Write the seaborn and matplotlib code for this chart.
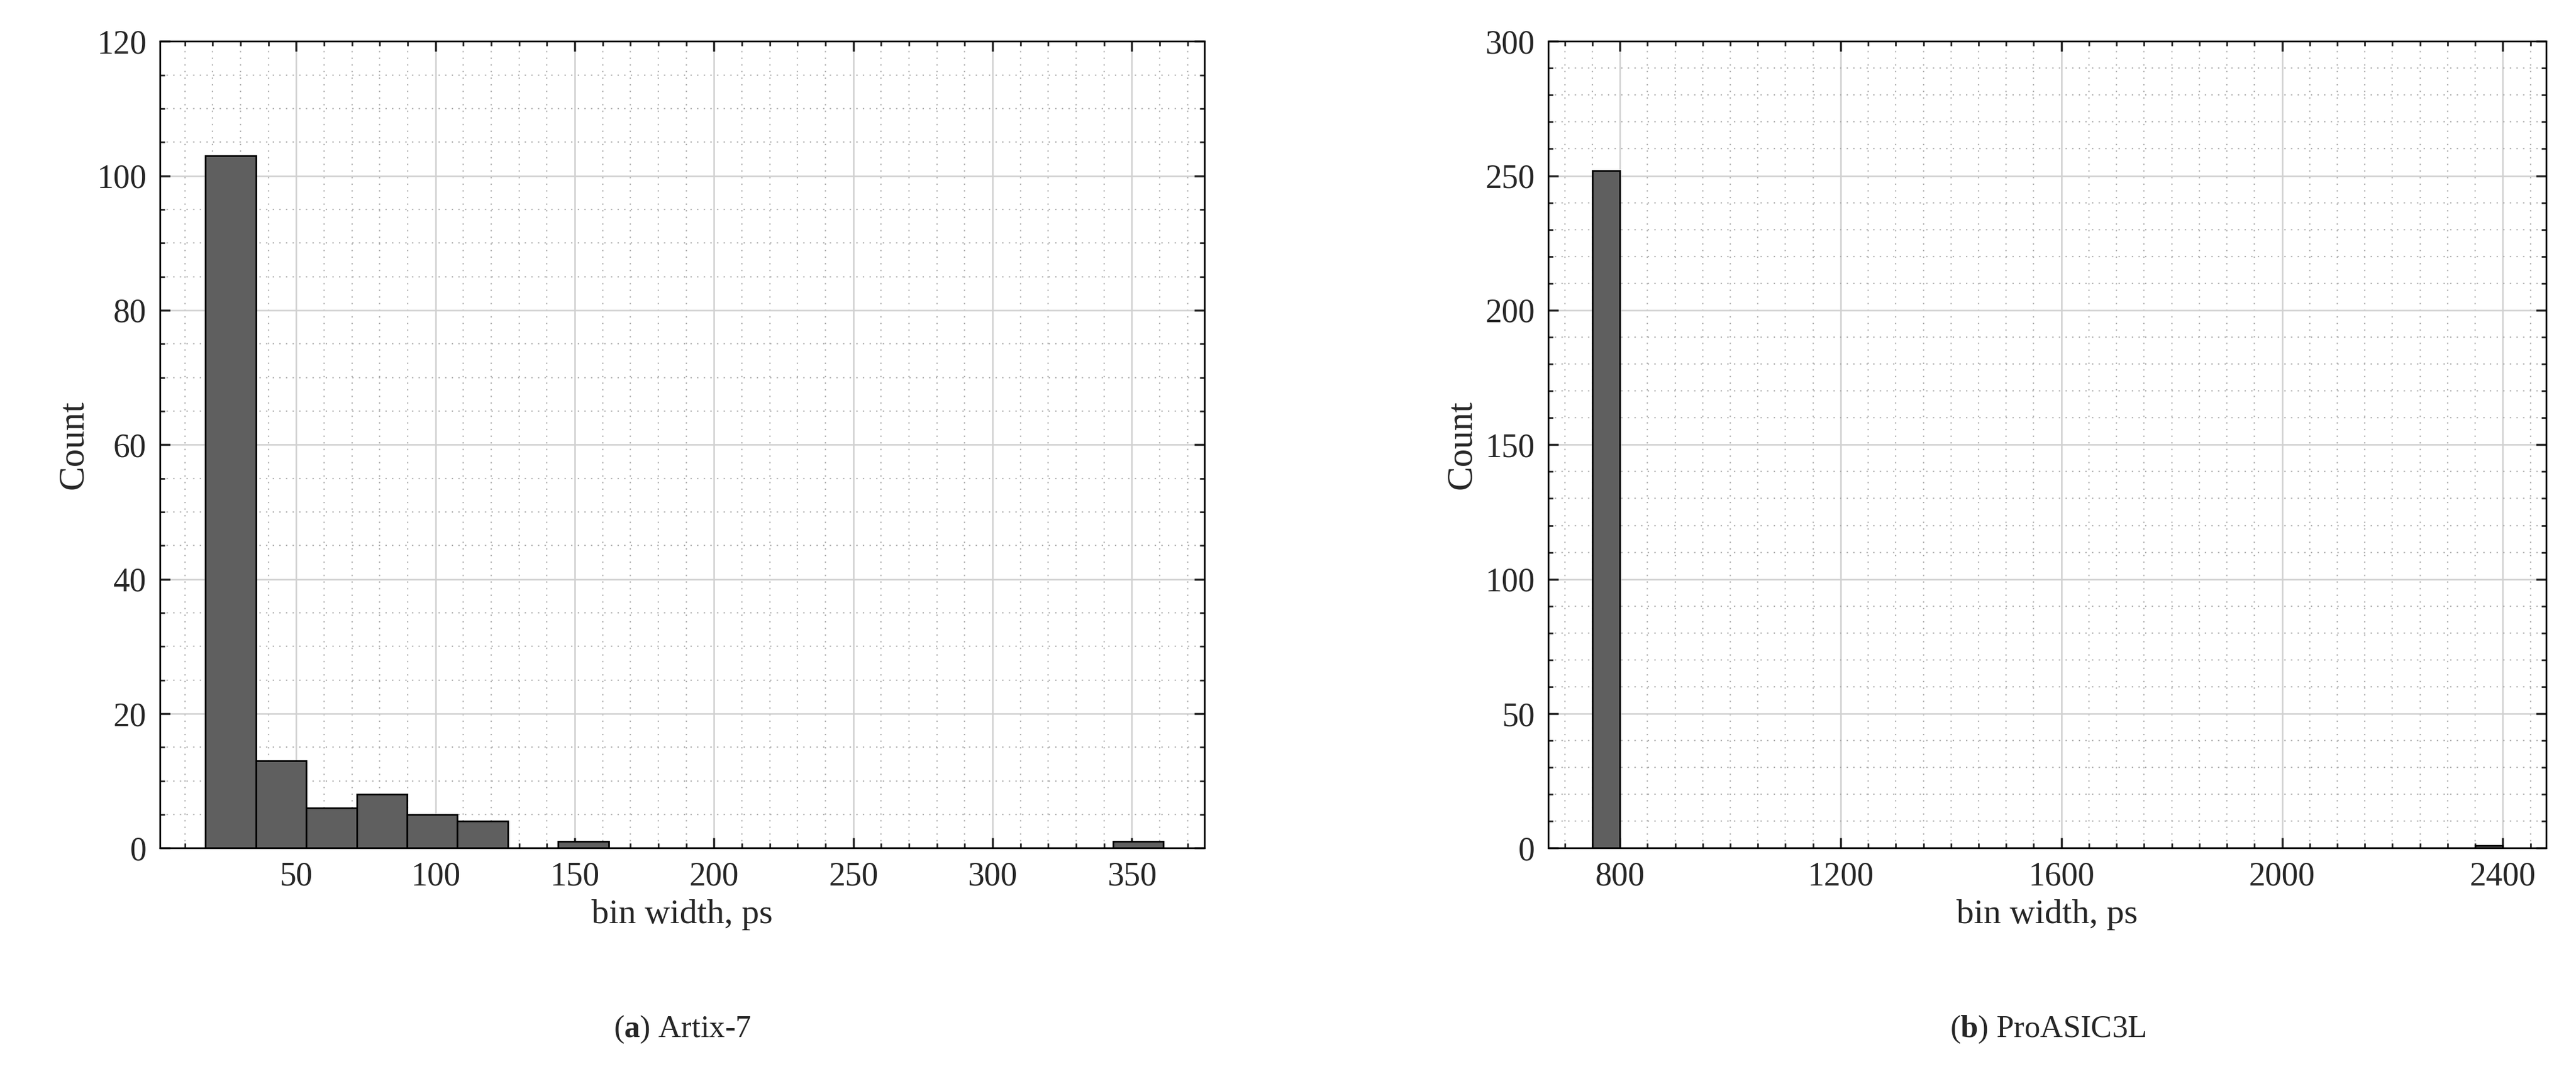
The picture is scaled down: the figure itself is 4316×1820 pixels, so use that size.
import numpy as np
import pandas as pd
import matplotlib
matplotlib.use("Agg")
import matplotlib.pyplot as plt
import seaborn as sns
from matplotlib.ticker import MultipleLocator

# Artix-7 histogram (first bin edge, bin width, counts)
artix_start = 17.4
artix_width = 18.1
artix_counts = [103, 13, 6, 8, 5, 4, 0, 1, 0, 0, 0, 0, 0, 0, 0, 0, 0, 0, 1]

# ProASIC3L histogram
pro_start = 750
pro_width = 50
pro_counts = [252] + [0] * 31 + [1]

sns.set_theme(style="white")
plt.rcParams["font.family"] = ["Liberation Serif", "DejaVu Serif"]
plt.rcParams["mathtext.fontset"] = "custom"
plt.rcParams["mathtext.rm"] = "Liberation Serif"
plt.rcParams["mathtext.bf"] = "Liberation Serif:bold"

fig = plt.figure(figsize=(21.58, 9.1), dpi=200)
ax1 = fig.add_axes([0.062, 0.219, 0.4055, 0.743])
ax2 = fig.add_axes([0.601, 0.219, 0.3875, 0.743])


def draw(ax, start, width, counts):
    edges = start + width * np.arange(len(counts) + 1)
    df = pd.DataFrame({"x": (edges[:-1] + edges[1:]) / 2, "w": counts})
    sns.histplot(data=df, x="x", weights="w", bins=edges.tolist(), ax=ax,
                 color="#5f5f5f", edgecolor="black", linewidth=1.0, alpha=1)


draw(ax1, artix_start, artix_width, artix_counts)
draw(ax2, pro_start, pro_width, pro_counts)

ax1.set_xlim(1, 376)
ax1.set_ylim(0, 120)
ax1.set_xticks([50, 100, 150, 200, 250, 300, 350])
ax1.xaxis.set_minor_locator(MultipleLocator(10))
ax1.yaxis.set_major_locator(MultipleLocator(20))
ax1.yaxis.set_minor_locator(MultipleLocator(5))

ax2.set_xlim(670, 2479)
ax2.set_ylim(0, 300)
ax2.set_xticks([800, 1200, 1600, 2000, 2400])
ax2.xaxis.set_minor_locator(MultipleLocator(50))
ax2.yaxis.set_major_locator(MultipleLocator(50))
ax2.yaxis.set_minor_locator(MultipleLocator(10))

for ax in (ax1, ax2):
    ax.set_axisbelow(True)
    ax.grid(which="major", color="#d0d0d0", linestyle="-", linewidth=0.9)
    ax.grid(which="minor", color="#b0b0b0", linestyle=(0, (1, 4)), linewidth=0.8)
    ax.tick_params(which="both", direction="in", top=True, right=True,
                   bottom=True, left=True, labelsize=20, pad=8)
    ax.tick_params(which="major", length=6)
    ax.tick_params(which="minor", length=3)
    for s in ax.spines.values():
        s.set_color("black")
        s.set_linewidth(1.0)
    ax.set_xlabel("bin width, ps", fontsize=21)
    ax.set_ylabel("Count", fontsize=22)

fig.text(0.265, 0.045, r"($\mathbf{a}$) Artix-7", ha="center", fontsize=19)
fig.text(0.795, 0.045, r"($\mathbf{b}$) ProASIC3L", ha="center", fontsize=19)

fig.savefig("out.png", dpi=200, facecolor="white")
